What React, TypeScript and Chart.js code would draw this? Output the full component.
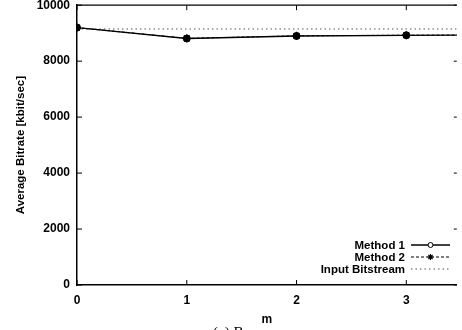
import React, { useEffect, useRef } from "react";
import { Chart, registerables } from "chart.js";

Chart.register(...registerables);

const mValues = [0, 1, 2, 3, 4];
const method1 = [9200, 8810, 8900, 8925, 8930];
const method2 = [9200, 8815, 8905, 8930, 8935];
const inputBitstream = [9150, 9150, 9150, 9150, 9150];
const xTicks = [0, 1, 2, 3];
const yTicks = [0, 2000, 4000, 6000, 8000, 10000];
const seriesLabels = ["Method 1", "Method 2", "Input Bitstream"];

const FONT = '"Liberation Sans", Arial, sans-serif';

const frameAndLegend = {
  id: "frameAndLegend",
  afterDraw(chart: any) {
    const { ctx, chartArea } = chart;
    const xs = chart.scales.x;
    const ys = chart.scales.y;
    ctx.save();
    ctx.strokeStyle = "#000";
    ctx.lineWidth = 1.3;
    ctx.beginPath();
    ctx.moveTo(chartArea.left, chartArea.top);
    ctx.lineTo(chartArea.right, chartArea.top);
    ctx.stroke();
    ctx.lineWidth = 1;
    ctx.beginPath();
    xTicks.forEach((v) => {
      const px = xs.getPixelForValue(v);
      ctx.moveTo(px, chartArea.bottom);
      ctx.lineTo(px, chartArea.bottom - 5);
      ctx.moveTo(px, chartArea.top);
      ctx.lineTo(px, chartArea.top + 5);
    });
    yTicks.forEach((v) => {
      const py = ys.getPixelForValue(v);
      ctx.moveTo(chartArea.left, py);
      ctx.lineTo(chartArea.left + 5, py);
      ctx.moveTo(chartArea.right, py);
      ctx.lineTo(chartArea.right - 3, py);
    });
    ctx.stroke();

    const rows = [245, 257, 269];
    const textRight = 405;
    const s0 = 411;
    const s1 = 450;
    ctx.font = `bold 11.5px ${FONT}`;
    ctx.fillStyle = "#000";
    ctx.textAlign = "right";
    ctx.textBaseline = "middle";
    chart.data.datasets.forEach((ds: any, i: number) => {
      const y = rows[i];
      ctx.fillText(ds.label, textRight, y + 1);
      ctx.save();
      ctx.strokeStyle = ds.borderColor;
      ctx.lineWidth = ds.borderWidth;
      ctx.setLineDash(ds.borderDash || []);
      ctx.beginPath();
      ctx.moveTo(s0, y);
      ctx.lineTo(s1, y);
      ctx.stroke();
      ctx.restore();
      const cx = (s0 + s1) / 2;
      if (i === 0) {
        ctx.save();
        ctx.beginPath();
        ctx.arc(cx, y, 2.5, 0, Math.PI * 2);
        ctx.fillStyle = "#fff";
        ctx.fill();
        ctx.lineWidth = 1;
        ctx.strokeStyle = "#000";
        ctx.stroke();
        ctx.restore();
      } else if (i === 1) {
        ctx.save();
        ctx.strokeStyle = "#000";
        ctx.lineWidth = 1.2;
        ctx.beginPath();
        const r = 3;
        for (let k = 0; k < 4; k++) {
          const a = (k * Math.PI) / 4;
          ctx.moveTo(cx - r * Math.cos(a), y - r * Math.sin(a));
          ctx.lineTo(cx + r * Math.cos(a), y + r * Math.sin(a));
        }
        ctx.stroke();
        ctx.restore();
      }
    });

    ctx.font = '15px "Liberation Serif", "Times New Roman", serif';
    ctx.textAlign = "left";
    ctx.textBaseline = "top";
    ctx.fillStyle = "#000";
    ctx.fillText("(a) B", 213, 326);
    ctx.restore();
  },
};

export default function App() {
  const ref = useRef<HTMLCanvasElement>(null);
  useEffect(() => {
    document.body.style.margin = "0";
    const canvas = ref.current!;
    const chart = new Chart(canvas, {
      type: "line",
      data: {
        datasets: [
          {
            label: seriesLabels[0],
            data: mValues.map((x, i) => ({ x, y: method1[i] })),
            borderColor: "#000",
            borderWidth: 1.3,
            pointStyle: "circle",
            pointRadius: 3.5,
            pointBackgroundColor: "#000",
            pointBorderColor: "#000",
            pointBorderWidth: 1,
            tension: 0,
          },
          {
            label: seriesLabels[1],
            data: mValues.map((x, i) => ({ x, y: method2[i] })),
            borderColor: "#000",
            borderWidth: 1,
            borderDash: [3, 2],
            pointStyle: "star",
            pointRadius: 4,
            pointBorderColor: "#000",
            pointBorderWidth: 1.2,
            tension: 0,
          },
          {
            label: seriesLabels[2],
            data: mValues.map((x, i) => ({ x, y: inputBitstream[i] })),
            borderColor: "#555",
            borderWidth: 1,
            borderDash: [1.5, 3],
            pointRadius: 0,
            tension: 0,
          },
        ],
      },
      options: {
        responsive: false,
        animation: false,
        events: [],
        layout: { padding: { left: 0, right: 0, top: 5, bottom: 0 } },
        plugins: { legend: { display: false }, tooltip: { enabled: false } },
        scales: {
          x: {
            type: "linear",
            min: 0,
            max: 3.46,
            afterFit: (s: any) => {
              s.height = 45;
              s.paddingLeft = 0;
              s.paddingRight = 0;
            },
            grid: { display: false, drawTicks: false },
            border: { display: true, color: "#000", width: 1.5 },
            ticks: {
              stepSize: 1,
              includeBounds: false,
              padding: 8,
              color: "#000",
              font: { family: FONT, size: 12, weight: "bold" },
              callback: (v: any) => String(v),
            },
            title: {
              display: true,
              text: "m",
              color: "#000",
              font: { family: FONT, size: 12, weight: "bold" },
              padding: { top: 0, bottom: 3 },
            },
          },
          y: {
            min: 0,
            max: 10000,
            afterFit: (s: any) => {
              s.width = 77;
              s.paddingTop = 0;
              s.paddingBottom = 0;
            },
            grid: { display: false, drawTicks: false },
            border: { display: true, color: "#000", width: 1.5 },
            ticks: {
              stepSize: 2000,
              padding: 7,
              color: "#000",
              font: { family: FONT, size: 12, weight: "bold" },
              callback: (v: any) => String(v),
            },
            title: {
              display: true,
              text: "Average Bitrate [kbit/sec]",
              color: "#000",
              font: { family: FONT, size: 11.5, weight: "bold" },
              padding: { top: 14, bottom: 0 },
            },
          },
        },
      },
      plugins: [frameAndLegend],
    });
    return () => chart.destroy();
  }, []);
  return <canvas ref={ref} width={462} height={330} style={{ display: "block" }} />;
}
